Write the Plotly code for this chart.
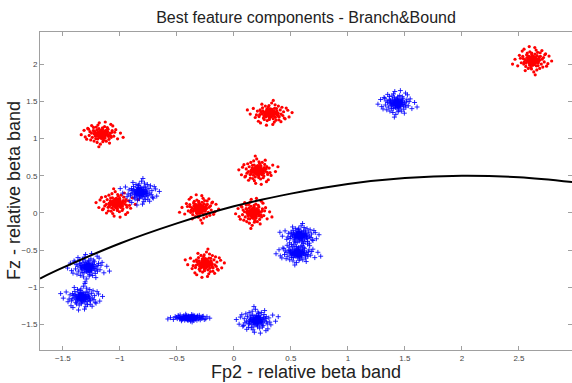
import plotly.graph_objects as go

# ---- data ----
# cluster centres and spreads (x, y, sdx, sdy, flipx, flipy)
red_cx = [2.62, -1.16, 0.32, 0.21, -0.30, 0.17, -0.25, -1.03]
red_cy = [2.05, 1.06, 1.34, 0.57, 0.06, 0.00, -0.68, 0.13]
red_sx = [0.070, 0.075, 0.080, 0.070, 0.070, 0.065, 0.070, 0.075]
red_sy = [0.080, 0.070, 0.070, 0.080, 0.080, 0.085, 0.080, 0.080]
red_fx = [1, -1, 1, -1, 1, -1, 1, -1]
red_fy = [1, 1, -1, -1, 1, 1, -1, -1]

blue_cx = [1.43, -0.82, -1.28, -1.33, -0.39, 0.20, 0.58, 0.56]
blue_cy = [1.47, 0.28, -0.73, -1.13, -1.41, -1.44, -0.30, -0.54]
blue_sx = [0.070, 0.070, 0.075, 0.075, 0.075, 0.075, 0.070, 0.080]
blue_sy = [0.075, 0.075, 0.080, 0.075, 0.022, 0.075, 0.065, 0.065]
blue_fx = [-1, 1, -1, 1, 1, -1, 1, -1]
blue_fy = [1, -1, 1, -1, 1, -1, -1, 1]

# hand-typed normalised offsets describing the shape of one cloud
off_x = [0.12, -0.48, 0.83, -1.12, 0.31, -0.22, 1.45, -0.76, 0.05, -0.41,
         0.67, -1.53, 0.94, -0.09, 0.28, -0.63, 1.18, -0.35, 0.52, -1.87,
         2.05, -0.17, 0.39, -0.94, 0.71, -0.26, 1.62, -1.31, 0.18, -0.55,
         0.86, -0.04, 0.43, -1.05, 1.27, -0.71, 0.23, -0.12, 0.58, -2.21,
         0.97, -0.38, 0.14, -0.86, 1.91, -0.19, 0.36, -1.42, 0.62, -0.51,
         0.07, -0.29, 1.08, -0.67, 0.49, -1.24, 0.21, -0.08, 0.79, -0.45,
         2.38, -0.93, 0.27, -1.66, 1.36, -0.15, 0.55, -0.33, 0.11, -0.02,
         0.88, -1.17, 0.41, -0.58, 1.52, -0.24, 0.19, -0.81, 0.66, -0.11,
         -2.52, 1.74, -0.43, 0.32, -1.08, 1.16, -0.37, 0.46, -0.72, 0.03,
         0.25, -0.16, 0.09, -0.06, 0.34, -0.31, 0.16, 0.74, -0.53, 0.01]
off_y = [-0.35, 0.21, 0.55, -0.64, 1.05, -1.18, -0.27, 0.93, 0.08, -0.52,
         -0.88, 0.34, 1.27, 0.61, -0.14, -0.05, 0.19, 1.42, -1.61, -0.92,
         0.71, -0.33, 0.44, 0.12, -0.41, 0.27, 1.08, 1.55, -0.71, -1.37,
         0.02, -0.22, 1.71, -0.28, -1.14, 0.47, 0.16, 0.92, -0.26, 0.18,
         0.68, -0.81, -1.95, -1.02, -0.56, 0.38, -0.47, -0.41, 1.34, 0.71,
         -0.02, -0.09, -0.63, 1.21, 0.11, 0.66, 0.57, -0.58, 0.31, -0.24,
         -0.12, -1.73, 2.15, 0.83, 0.45, -1.46, 0.79, 0.03, 0.33, -0.41,
         -1.36, 0.29, -0.06, 0.18, 0.93, -0.67, -0.29, -0.47, 0.22, 1.19,
         -0.63, -0.98, 2.31, -2.44, 1.87, 1.63, 0.52, -0.93, -0.19, 0.74,
         0.02, 0.14, -0.13, 0.25, 0.27, -0.36, 0.49, -0.13, 0.38, -0.84]

# decision boundary
curve_x = [-1.7, -1.5, -1.0, -0.5, 0.0, 0.5, 1.0, 1.5, 2.0, 2.5, 3.0]
curve_y = [-0.88, -0.735, -0.41, -0.14, 0.09, 0.26, 0.39, 0.47, 0.50, 0.48, 0.41]

x_ticks = [-1.5, -1, -0.5, 0, 0.5, 1, 1.5, 2, 2.5]
y_ticks = [-1.5, -1, -0.5, 0, 0.5, 1, 1.5, 2]


def build(cx, cy, sx, sy, fx, fy):
    xs, ys = [], []
    for i in range(len(cx)):
        for ox, oy in zip(off_x, off_y):
            xs.append(cx[i] + fx[i] * sx[i] * ox)
            ys.append(cy[i] + fy[i] * sy[i] * oy)
    return xs, ys


rx, ry = build(red_cx, red_cy, red_sx, red_sy, red_fx, red_fy)
bx, by = build(blue_cx, blue_cy, blue_sx, blue_sy, blue_fx, blue_fy)

fig = go.Figure()
fig.add_trace(go.Scatter(x=rx, y=ry, mode="markers",
                         marker=dict(symbol="circle", size=3.2, color="#ff0000",
                                     line=dict(width=0)),
                         showlegend=False, hoverinfo="skip"))
fig.add_trace(go.Scatter(x=bx, y=by, mode="markers",
                         marker=dict(symbol="cross-thin", size=3.5,
                                     line=dict(width=1, color="rgba(0,0,255,0.85)"),
                                     color="#0000ff"),
                         showlegend=False, hoverinfo="skip"))
fig.add_trace(go.Scatter(x=curve_x, y=curve_y, mode="lines",
                         line=dict(color="black", width=2, shape="spline"),
                         showlegend=False, hoverinfo="skip"))

font = "Liberation Sans, Arial, Helvetica, sans-serif"
axis_common = dict(showgrid=False, zeroline=False, showline=True,
                   linecolor="#a0a0a0", linewidth=1, mirror="allticks",
                   ticks="inside", ticklen=4, tickcolor="#a0a0a0",
                   automargin=False,
                   tickfont=dict(size=8, color="#444444", family=font))

fig.update_layout(
    width=572, height=383,
    margin=dict(l=40, r=0, t=32, b=33, autoexpand=False),
    paper_bgcolor="white", plot_bgcolor="white",
    title=dict(text="Best feature components - Branch&Bound",
               x=306 / 572, xanchor="center", xref="container",
               y=1 - 17 / 383, yref="container", yanchor="middle",
               automargin=False,
               font=dict(size=16, color="#222222", family=font)),
    xaxis=dict(range=[-1.70, 2.965], tickvals=x_ticks, **axis_common),
    yaxis=dict(range=[-1.84, 2.43], tickvals=y_ticks, **axis_common),
    annotations=[
        dict(text="Fp2 - relative beta band", xref="paper", yref="paper",
             x=0.5, y=-22 / 318, xanchor="center", yanchor="middle",
             showarrow=False, font=dict(size=18, color="#222222", family=font)),
        dict(text="Fz - relative beta band", xref="paper", yref="paper",
             x=-26 / 532, y=0.5, xanchor="center", yanchor="middle",
             textangle=-90, showarrow=False,
             font=dict(size=18, color="#222222", family=font)),
    ],
)

fig.write_html("out.html",
               config={"displayModeBar": False},
               post_script="document.body.style.margin='0px';"
                           "document.body.style.overflow='hidden';")
